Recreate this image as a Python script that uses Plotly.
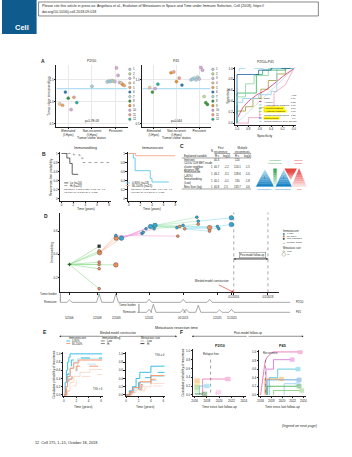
import plotly.graph_objects as go
import pandas as pd

FONT = "Liberation Sans, Arial, Helvetica, sans-serif"
INK = "#231f20"
W, H = 352, 457

# ======================= DATA =======================
# ---- Panel A: tumor clone immunoediting ----
clone_ids = [str(i) for i in range(1, 13)]
clone_colors = ["#a6cde3", "#b9de95", "#cbb6de", "#e8c59f", "#eea35f", "#2b7cb6",
                "#a9dbd6", "#3a9a3a", "#f08c2c", "#d8a6d8", "#f2a080", "#22b398"]
status_labels = ["Eliminated<br>(I-Hyes)", "Non-recurrent<br>(I-Hyes)", "Persistent"]

p2i10_status = [0, 0, 0, 0, 0, 0, 0, 1, 2, 2, 2, 2, 2, 2, 2, 2, 2, 2, 2, 2]
p2i10_clone = [4, 5, 6, 8, 10, 11, 12, 1, 7, 1, 1, 7, 2, 3, 10, 10, 3, 4, 9, 5]
p2i10_value = [0.95, 0.92, 1.22, 1.08, 0.82, 1.10, 0.98, 1.35, 1.45, 1.47, 1.46, 1.48,
               1.47, 1.46, 1.77, 1.60, 1.44, 1.43, 1.39, 1.37]
p2i10_threshold = 1.3
p2i10_p = "p=5.7E-08"

p45_status = [0, 0, 0, 0, 1, 1, 1, 1, 1, 2, 2, 2, 2, 2, 2, 2, 2, 2, 2, 2]
p45_clone = [4, 8, 10, 12, 9, 11, 9, 11, 6, 1, 1, 7, 1, 7, 3, 10, 10, 2, 8, 8]
p45_value = [0.91, 0.86, 0.90, 0.95, 1.08, 1.09, 0.98, 1.02, 0.94, 1.00, 1.01, 1.02,
             1.00, 1.03, 1.01, 1.14, 1.11, 0.81, 0.74, 0.72]
p45_threshold = 0.9
p45_p = "p=0.044"

# ---- Panel A: ROC ----
roc_names = ["Shifts", "# Clones", "# Immunogenic mutations", "# Coding mutations",
             "# Antigenic mutations", "Transitions/Transversions", "Immunoediting",
             "Immunoediting per clone (Events)"]
roc_auc = ["0.66", "0.53", "0.67", "0.60", "0.76", "0.27", "0.9", ""]
roc_colors = ["#a39a3a", "#d42f7a", "#8fcbe8", "#2fb35a", "#86d49a", "#f59ac0", "#1f5fa8", "#9fd4ef"]
roc_highlight = [False, False, False, True, True, False, True, False]
roc_spec = [
    [1, 1, 0.85, 0.85, 0.72, 0.72, 0.58, 0.58, 0.45, 0.45, 0.3, 0.3, 0.15, 0.15, 0],
    [1, 1, 0.9, 0.8, 0.65, 0.5, 0.35, 0.2, 0],
    [1, 1, 0.9, 0.9, 0.62, 0.62, 0.4, 0.4, 0.3, 0.3, 0],
    [1, 1, 0.66, 0.66, 0.55, 0.55, 0.15, 0.15, 0],
    [1, 1, 0.85, 0.85, 0.7, 0.7, 0.45, 0.45, 0],
    [1, 0.8, 0.8, 0.6, 0.6, 0.35, 0.35, 0.15, 0],
    [1, 1, 0.62, 0.62, 0.4, 0.4, 0],
    [1, 1, 0.96, 0.96, 0],
]
roc_sens = [
    [0, 0.22, 0.22, 0.3, 0.3, 0.45, 0.45, 0.62, 0.62, 0.78, 0.78, 0.9, 0.9, 1, 1],
    [0, 0.08, 0.28, 0.4, 0.52, 0.6, 0.72, 0.85, 1],
    [0, 0.38, 0.38, 0.45, 0.45, 0.52, 0.52, 0.58, 0.58, 1, 1],
    [0, 0.55, 0.55, 0.89, 0.89, 0.97, 0.97, 1, 1],
    [0, 0.48, 0.48, 0.72, 0.72, 0.87, 0.87, 1, 1],
    [0, 0, 0.1, 0.1, 0.28, 0.3, 0.55, 0.7, 1],
    [0, 0.89, 0.89, 0.97, 0.97, 1, 1],
    [0, 0.9, 0.9, 1, 1],
]

# ---- Panel B: Kaplan-Meier ----
b_lo_t = [0, 0.9, 1.4, 1.8, 2.8]
b_lo_s = [1.0, 0.9, 0.78, 0.54, 0.54]
b_hi_t = [0, 2.0, 3.1, 3.6, 8.0]
b_hi_s = [1.0, 0.97, 0.9, 0.8, 0.8]
b_low_is_t = [0, 0.8, 1.1, 3.7, 4.0, 6.9]
b_low_is_s = [1.0, 0.9, 0.62, 0.45, 0.37, 0.37]
b_high_is_t = [0, 1.2, 8.0]
b_high_is_s = [1.0, 0.95, 0.95]

# ---- Panel C: table ----
c_rows = ["Intercept", "CD3 & CD8 MET-inside<br>cluster neighbor<br>distance [IM]",
          "Immunoscore<br>(≥80%)", "Immunoediting<br>(Low)", "Mets Size (log)"]
c_n = ["", "1", "1", "1", "1"]
c_r2_first = ["40.3", "40.7", "46.2", "40.1", "40.8"]
c_lp_first = ["", "-2.2", "-3.1", "-0.1", "2.5"]
c_r2_multi = ["124", "124.1", "128.6", "130", "133.7"]
c_lp_multi = ["", "-1.5", "-5.6", "-1.8", "4.6"]

# ---- Panel D: immunoediting tree over time ----
d_date = ["2006-05-15",
          "2008-02-10", "2008-02-10", "2008-02-20", "2008-02-10", "2008-02-10", "2008-02-10", "2008-02-10",
          "2009-02-01", "2009-02-01", "2009-02-10", "2009-06-01",
          "2010-08-15", "2010-09-10", "2010-11-10", "2011-02-15", "2011-05-20", "2011-05-01",
          "2012-09-01", "2012-11-01", "2013-01-10", "2012-09-20", "2013-02-15",
          "2013-11-01", "2013-12-01", "2013-12-01",
          "2014-08-01", "2014-08-01", "2015-01-15", "2015-02-15",
          "2015-11-10", "2015-11-10"]
d_value = [0.314,
           0.47, 0.43, 0.415, 0.334, 0.314, 0.277, 0.105,
           0.31, 0.563, 0.54, 0.54,
           0.58, 0.59, 0.62, 0.64, 0.65, 0.62,
           0.63, 0.64, 0.65, 0.557, 0.62,
           0.72, 0.686, 0.66,
           0.63, 0.60, 0.64, 0.62,
           0.715, 0.657]
d_score = ["P",
           "N", "O", "O", "O", "O", "O", "O",
           "O", "B", "O", "B",
           "B", "B", "B", "B", "B", "B",
           "B", "O", "B", "O", "O",
           "B", "B", "O",
           "O", "O", "B", "B",
           "B", "B"]
d_size = ["L",
          "L", "L", "H", "L", "L", "L", "L",
          "H", "L", "H", "H",
          "L", "L", "L", "H", "H", "L",
          "L", "L", "L", "L", "L",
          "L", "L", "L",
          "H", "L", "L", "L",
          "H", "H"]
d_parent = [-1,
            0, 0, 0, 0, 0, 0, 0,
            0, 3, 3, 3,
            10, 10, 11, 11, 11, 11,
            15, 15, 16, 9, 16,
            16, 16, 17,
            22, 22, 19, 19,
            24, 28]
d_cutoffs = ["2016-01-01", "2018-01-01"]
d_cutoff_labels = ["01/2016", "01/2018"]

# timelines (tumor burden)
tl_p2i10_dates = ["2006-05-15", "2008-02-10", "2009-02-01", "2011-01-15", "2013-01-10", "2014-08-01"]
tl_p2i10_height = [0.25, 0.85, 0.85, 0.3, 0.3, 0.3]
tl_p45_dates = ["2011-01-15", "2011-04-15", "2013-01-10", "2013-03-15", "2013-12-01", "2015-03-01", "2015-11-10"]
tl_p45_height = [0.3, 0.8, 0.3, 0.3, 0.7, 0.25, 0.3]
resection_labels = ["5/2006", "1/2008", "2/2009", "1/2011", "01/2013", "1/2015", "11/2015"]
resection_dates = ["2006-05-15", "2008-01-15", "2009-02-15", "2011-01-15", "2013-01-15", "2015-01-15", "2015-11-15"]

# ---- Panel E: cumulative probability of recurrence (blinded model) ----
e_score = ["0-80%", "0-80%", "0-80%", "0-80%", "80-100%", "80-100%", "80-100%", "80-100%"]
e_edit = ["Low", "Hi", "Low", "Hi", "Low", "Hi", "Low", "Hi"]
e_size = ["Hi", "Hi", "Low", "Low", "Hi", "Hi", "Low", "Low"]
e1_t = [[0, 0.2, 0.4, 0.6, 0.8, 1.0, 6.2], [0, 0.3, 0.5, 0.8, 1.2, 1.6, 6.2],
        [0, 0.3, 0.6, 1.0, 1.5, 2.2, 6.2], [0, 0.4, 0.8, 1.4, 2.2, 6.2],
        [0, 0.3, 0.6, 1.0, 1.6, 2.4, 6.2], [0, 0.4, 0.8, 1.3, 2.0, 6.2],
        [0, 0.5, 1.0, 1.6, 2.6, 4.2, 6.2], [0, 0.6, 1.2, 2.0, 3.0, 4.2, 6.2]]
e1_p = [[0, 0.3, 0.6, 0.8, 0.92, 1.0, 1.0], [0, 0.25, 0.5, 0.7, 0.85, 0.9, 0.9],
        [0, 0.2, 0.45, 0.65, 0.8, 0.88, 0.88], [0, 0.15, 0.4, 0.6, 0.75, 0.75],
        [0, 0.2, 0.45, 0.65, 0.78, 0.85, 0.85], [0, 0.15, 0.38, 0.55, 0.7, 0.7],
        [0, 0.1, 0.3, 0.45, 0.55, 0.62, 0.62], [0, 0.08, 0.22, 0.35, 0.45, 0.5, 0.5]]
e2_t = [[0, 0.5, 1, 1.6, 2.2, 4.0, 6.2], [0, 0.6, 1.2, 2, 2.5, 4, 6.2],
        [0, 0.7, 1.4, 2.2, 4, 6.2], [0, 0.8, 1.6, 2.5, 4, 6.2],
        [0, 0.6, 1.2, 2.2, 4, 6.2], [0, 0.7, 1.4, 2.4, 4, 6.2],
        [0, 0.8, 1.6, 2.6, 4, 6.2], [0, 1, 2, 3, 4, 6.2]]
e2_p = [[0, 0.1, 0.2, 0.4, 0.55, 0.7, 0.7], [0, 0.08, 0.15, 0.3, 0.42, 0.55, 0.55],
        [0, 0.06, 0.15, 0.3, 0.45, 0.45], [0, 0.05, 0.12, 0.22, 0.35, 0.35],
        [0, 0.08, 0.18, 0.32, 0.47, 0.47], [0, 0.06, 0.14, 0.25, 0.38, 0.38],
        [0, 0.05, 0.12, 0.2, 0.28, 0.28], [0, 0.04, 0.1, 0.16, 0.22, 0.22]]

# ---- Panel F: post-model follow-up ----
f1_colors = ["#ee6fb8", "#5fc6e6", "#f4a6e0", "#f6a04d", "#e9cf5a", "#79c36a", "#b6e09c", "#2f7d3c"]
f1_t = [[2017.3, 2017.3, 2021.0], [2016.8, 2016.8, 2017.6], [2019.5, 2019.5], [2016.0],
        [2016.0], [2016.0], [2016.0], [2016.0, 2017.2]]
f1_p = [[0, 0.36, 0.36], [0, 0.2, 0.2], [0, 0.06], [0.33], [0.25], [0.17], [0.1], [0.02, 0.02]]
f2_colors = ["#ee5fa8", "#d46ad8", "#3fc0d8", "#4a8fdc", "#f2a23c", "#8fc8f0", "#3aa845", "#7cc86a"]
f2_t = [[2016.0, 2016.3, 2016.5, 2016.8, 2017.2, 2017.6, 2018.3, 2023.0],
        [2017.0, 2017.0, 2018.4, 2018.4, 2021.5],
        [2017.6, 2017.6, 2019.2, 2019.2, 2022.6],
        [2017.2, 2017.2, 2022.8], [2016.8, 2016.8, 2019.5], [2020.4, 2020.4, 2022.6],
        [2017.2, 2017.2, 2022.8], [2018.4, 2018.4, 2023.3]]
f2_p = [[0, 0.3, 0.55, 0.75, 0.88, 0.93, 1.0, 1.0], [0, 0.6, 0.6, 0.82, 0.82],
        [0, 0.4, 0.4, 0.6, 0.6], [0, 0.35, 0.35], [0, 0.37, 0.37], [0, 0.26, 0.26],
        [0, 0.2, 0.2], [0, 0.1, 0.1]]
f1_marker_year = 2018.6
f2_marker_year = 2016.9

# ======================= HELPERS =======================
def X(p):
    return p / W

def Y(p):
    return 1 - p / H

def dom_x(a, b):
    return [a / W, b / W]

def dom_y(top, bottom):
    return [1 - bottom / H, 1 - top / H]

ann, shapes = [], []
fig = go.Figure()
lay = dict(width=W, height=H, margin=dict(l=0, r=0, t=0, b=0), paper_bgcolor="white",
           plot_bgcolor="white", showlegend=False, font=dict(family=FONT, size=3.4, color=INK))


def txt(x, y, s, size=3.3, color=INK, xa="center", ya="middle", angle=0, bold=False,
        italic=False, bg=None, border=None):
    if bold:
        s = f"<b>{s}</b>"
    if italic:
        s = f"<i>{s}</i>"
    d = dict(x=X(x), y=Y(y), xref="paper", yref="paper", text=s, showarrow=False,
             xanchor=xa, yanchor=ya, textangle=angle, align=xa if xa != "center" else "center",
             font=dict(size=size, color=color, family=FONT), borderpad=0)
    if bg:
        d["bgcolor"] = bg
    if border:
        d["bordercolor"] = border
        d["borderwidth"] = 0.4
        d["borderpad"] = 0.6
    ann.append(d)


def arrow(x0, y0, x1, y1, color=INK, width=0.5, head=2, size=0.7):
    ann.append(dict(x=X(x1), y=Y(y1), xref="paper", yref="paper", ax=x0 - x1, ay=y0 - y1,
                    axref="pixel", ayref="pixel", text="", showarrow=True, arrowhead=head,
                    arrowsize=size, arrowwidth=width, arrowcolor=color, standoff=0, startstandoff=0))


def line_px(x0, y0, x1, y1, color=INK, width=0.5, dash=None):
    shapes.append(dict(type="line", xref="paper", yref="paper", x0=X(x0), y0=Y(y0), x1=X(x1),
                       y1=Y(y1), line=dict(color=color, width=width, dash=dash or "solid")))


def rect_px(x0, y0, x1, y1, fill=None, color=INK, width=0.5):
    shapes.append(dict(type="rect", xref="paper", yref="paper", x0=X(x0), y0=Y(y1), x1=X(x1),
                       y1=Y(y0), fillcolor=fill or "rgba(0,0,0,0)", line=dict(color=color, width=width)))


def circle_px(x, y, r, fill, color="#555", width=0.3):
    shapes.append(dict(type="circle", xref="paper", yref="paper", x0=X(x - r), x1=X(x + r),
                       y0=Y(y + r), y1=Y(y - r), fillcolor=fill, line=dict(color=color, width=width)))


def names(n):
    return ("x" if n == 1 else f"x{n}", "y" if n == 1 else f"y{n}")


def add_axes(n, xd, yd, xr, yr, xkw=None, ykw=None):
    xn, yn = names(n)
    base = dict(showgrid=False, zeroline=False, showline=True, linecolor=INK, linewidth=0.5,
                ticks="outside", ticklen=1.4, tickwidth=0.4, tickcolor=INK,
                tickfont=dict(size=3.0, family=FONT, color=INK), fixedrange=True)
    xa = dict(base)
    xa.update(domain=xd, range=xr, anchor=yn)
    xa.update(xkw or {})
    ya = dict(base)
    ya.update(domain=yd, range=yr, anchor=xn)
    ya.update(ykw or {})
    lay["xaxis" if n == 1 else f"xaxis{n}"] = xa
    lay["yaxis" if n == 1 else f"yaxis{n}"] = ya


def sc(n, **kw):
    xn, yn = names(n)
    fig.add_trace(go.Scatter(xaxis=xn, yaxis=yn, hoverinfo="skip", **kw))


def dodge(status, step_max=0.12, width=0.72):
    out = []
    for k, g in enumerate(status):
        members = [j for j, s in enumerate(status) if s == g]
        m = len(members)
        i = members.index(k)
        step = min(step_max, width / (m - 1)) if m > 1 else 0
        out.append(g + (i - (m - 1) / 2) * step)
    return out


def mix(c0, c1, f):
    a = [int(c0[i:i + 2], 16) for i in (1, 3, 5)]
    b = [int(c1[i:i + 2], 16) for i in (1, 3, 5)]
    return "rgb(%d,%d,%d)" % tuple(round(a[i] + (b[i] - a[i]) * f) for i in range(3))


def tri_grad(apex, left, right, c0, c1, n=10):
    def lerp(p, q, f):
        return (p[0] + (q[0] - p[0]) * f, p[1] + (q[1] - p[1]) * f)
    for i in range(n):
        f0, f1 = i / n, (i + 1) / n
        pts = [lerp(apex, left, f0), lerp(apex, right, f0), lerp(apex, right, f1), lerp(apex, left, f1)]
        col = mix(c0, c1, (f0 + f1) / 2)
        path = "M " + " L ".join(f"{X(p[0]):.5f},{Y(p[1]):.5f}" for p in pts) + " Z"
        shapes.append(dict(type="path", xref="paper", yref="paper", path=path, fillcolor=col,
                           line=dict(color=col, width=0.3)))


# ======================= HEADER / FOOTER =======================
rect_px(0, 0, 35, 34, fill="#0f5b8d", color="#0f5b8d", width=0)
txt(20, 28, "Cell", size=7.5, color="white", bold=True)
rect_px(37, 2, 320, 16, color="#555", width=0.7)
txt(39.5, 6.3, "Please cite this article in press as: Angelova et al., Evolution of Metastases in Space and Time under Immune Selection, Cell (2018), https://",
    size=3.6, xa="left")
txt(39.5, 11.8, "doi.org/10.1016/j.cell.2018.09.018", size=3.6, xa="left")
txt(320, 427, "(legend on next page)", size=3.6, xa="right", italic=True)
txt(32, 444, "12  Cell 175, 1–15, October 18, 2018", size=3.8, xa="left")

# ======================= PANEL A =======================
txt(41, 61, "A", size=5, bold=True)
grid = dict(showgrid=True, gridcolor="#e9e9e9", gridwidth=0.4)
for n, (x0, x1), st, cl, vals, thr, pv, ttl, yr, yt in [
    (1, (55, 127), p2i10_status, p2i10_clone, p2i10_value, p2i10_threshold, p2i10_p, "P2I10",
     [0.43, 1.84], [0.5, 1.0, 1.5]),
    (2, (142, 211), p45_status, p45_clone, p45_value, p45_threshold, p45_p, "P45",
     [0.466, 1.17], [0.5, 1.0]),
]:
    add_axes(n, dom_x(x0, x1), dom_y(65, 127), [-0.5, 2.5], yr,
             dict(tickvals=[0, 1, 2], ticktext=status_labels, **grid),
             dict(tickvals=yt, ticktext=[f"{v:.1f}" for v in yt], **grid))
    sc(n, x=[-0.5, 2.5], y=[thr, thr], mode="lines", line=dict(color="#b3dcf5", width=1.3))
    sc(n, x=dodge(st), y=vals, mode="markers",
       marker=dict(size=3.2, color=[clone_colors[c - 1] for c in cl], line=dict(color="#777", width=0.25)))
    cx = (x0 + x1) / 2
    txt(cx, 61.5, ttl, size=3.5)
    txt(cx, 121, pv, size=3.0)
    txt(cx, 138.5, "Tumor clone status", size=3.4)
    lx = x1 + 2.3
    for i, (cid, col) in enumerate(zip(clone_ids, clone_colors)):
        yy = 69.5 + i * 4.55
        circle_px(lx, yy, 1.3, col)
        txt(lx + 2.3, yy, cid, size=2.8, xa="left")
txt(47.5, 96, "Tumor clone immunoediting", size=3.2, angle=-90)

# ROC
add_axes(3, dom_x(236, 297), dom_y(67, 125), [1.03, -0.03], [-0.03, 1.03],
         dict(tickvals=[1, 0.8, 0.6, 0.4, 0.2, 0], ticktext=["1.0", "0.8", "0.6", "0.4", "0.2", "0.0"]),
         dict(tickvals=[0, 0.2, 0.4, 0.6, 0.8, 1], ticktext=["0.0", "0.2", "0.4", "0.6", "0.8", "1.0"]))
sc(3, x=[1.03, -0.03], y=[-0.03, 1.03], mode="lines", line=dict(color="#c8c8c8", width=0.6))
for i in range(len(roc_names)):
    sc(3, x=roc_spec[i], y=roc_sens[i], mode="lines",
       line=dict(color=roc_colors[i], width=0.8, dash="dash" if i == 7 else "solid"))
txt(266.5, 62.5, "P2I10+P45", size=3.4)
txt(266.5, 136.5, "Specificity", size=3.4)
txt(228.5, 96, "Sensitivity", size=3.4, angle=-90)
txt(295, 95.3, "AUC", size=2.5)
for i, nm in enumerate(roc_names):
    yy = 98.5 + i * 3.3
    line_px(259.8, yy, 262.6, yy, color=roc_colors[i], width=0.9, dash="dash" if i == 7 else None)
    txt(263.5, yy, nm, size=2.2, xa="left", bg="#fff200" if roc_highlight[i] else None)
    txt(295, yy, roc_auc[i], size=2.3)

# ======================= PANEL B =======================
txt(42, 154, "B", size=5, bold=True)
for n, (x0, x1), ttl in [(4, (59, 110), "Immunoediting"), (5, (127, 177), "Immunoscore")]:
    add_axes(n, dom_x(x0, x1), dom_y(152, 201), [-0.2, 8.3], [-0.04, 1.04],
             dict(tickvals=[0, 2, 4, 6, 8]),
             dict(tickvals=[0, 0.2, 0.4, 0.6, 0.8, 1.0], ticktext=["0", "0.2", "0.4", "0.6", "0.8", "1"]))
    txt((x0 + x1) / 2, 148.8, ttl, size=3.5)
    txt((x0 + x1) / 2, 209, "Time (years)", size=3.2)
sc(4, x=b_lo_t, y=b_lo_s, mode="lines", line=dict(color="#3a3a3a", width=0.8, shape="hv"))
sc(4, x=b_hi_t, y=b_hi_s, mode="lines", line=dict(color="#8a8a8a", width=0.8, shape="hv", dash="dot"))
sc(5, x=b_low_is_t, y=b_low_is_s, mode="lines", line=dict(color="#5cc8ea", width=0.9, shape="hv"))
sc(5, x=b_high_is_t, y=b_high_is_s, mode="lines", line=dict(color="#f6a68a", width=0.9, shape="hv"))
txt(49, 177, "Recurrence-free probability", size=3.1, angle=-90)
line_px(63, 183.3, 67, 183.3, color="#3a3a3a", width=0.8)
txt(68, 183.3, "Lo (n=10)", size=2.8, xa="left")
line_px(63, 186, 67, 186, color="#8a8a8a", width=0.8, dash="dot")
txt(68, 186, "Hi (n=23)", size=2.8, xa="left")
txt(62, 191.5, "log-rank p=0.003; p(adj)=0.02; HR=6.7<br>HR 95% CI: [1.5-29.3]; p=0.012", size=2.4, xa="left")
line_px(125, 183.3, 129, 183.3, color="#5cc8ea", width=0.9)
txt(130, 183.3, "0-80% (n=18)", size=2.8, xa="left")
line_px(125, 186, 129, 186, color="#f6a68a", width=0.9)
txt(130, 186, "80-100% (n=15)", size=2.8, xa="left")
txt(129, 191.5, "log-rank p=0.035; p(adj)=0.04; HR=4.7<br>HR 95% CI: [1.1-20.7]; p=0.037", size=2.4, xa="left")

# ======================= PANEL C =======================
txt(182, 146, "C", size=5, bold=True)
cx = {"n": 212, "r1": 217.5, "l1": 227, "r2": 238, "l2": 248.5}
txt(cx["n"], 151.5, "N", size=2.8)
txt(222, 150.5, "First<br>recurrence", size=2.8)
txt(243, 150.5, "Multiple<br>recurrences", size=2.8)
line_px(214.5, 153.8, 231, 153.8, width=0.4)
line_px(234, 153.8, 252, 153.8, width=0.4)
txt(183, 156.3, "Explained variable", size=2.8, xa="left")
for k, lab in [("r1", "R²c"), ("l1", "log(p)"), ("r2", "R²c"), ("l2", "log(p)")]:
    txt(cx[k], 156.3, lab, size=2.8)
line_px(182, 158.3, 252, 158.3, width=0.4)
row_y = [160.8, 167.2, 174.5, 181.2, 187.3]
for i, ry in enumerate(row_y):
    txt(183, ry, c_rows[i], size=2.7, xa="left")
    txt(cx["n"], ry, c_n[i], size=2.7)
    txt(cx["r1"], ry, c_r2_first[i], size=2.7)
    txt(cx["l1"], ry, c_lp_first[i], size=2.7)
    txt(cx["r2"], ry, c_r2_multi[i], size=2.7)
    txt(cx["l2"], ry, c_lp_multi[i], size=2.7)
line_px(182, 189.4, 252, 189.4, width=0.4)
# conceptual triangles
tri_grad((266, 170), (257, 187), (275, 187), "#bfe3f7", "#0f7cc0")
for i in range(8):
    col = mix("#2fa84f", "#e9f6ec", i / 7)
    rect_px(274.6, 169 + i * 18 / 8, 277.8, 169 + (i + 1) * 18 / 8, fill=col, color=col, width=0.2)
tri_grad((285, 170), (277, 187), (293, 187), "#bfe3f7", "#0f7cc0")
tri_grad((292, 180), (286, 169), (298, 169), "#f7b8b8", "#e1261c")
tri_grad((300.5, 169), (293, 187), (308, 187), "#e83a3a", "#fde6e6")
txt(266, 178.5, "I", size=3, color="#0b3d66")
txt(285, 178.5, "I", size=3, color="#0b3d66")
txt(276, 162.5, "Metastasis<br>seeding (out)", size=2.4, color="#2fa84f")
txt(300, 162.5, "Immune<br>escape", size=2.4, color="#e1261c")
txt(266, 189.5, "Immunoscore", size=2.4, color="#0f7cc0")
txt(284.5, 189.5, "Immunoediting", size=2.4, color="#0f7cc0")
txt(300.5, 189.5, "Low", size=2.4, color="#e1261c")

# ======================= PANEL D =======================
txt(45, 216.5, "D", size=5, bold=True)
d_start, d_end = "2005-11-01", "2018-08-22"
add_axes(6, dom_x(59, 280), dom_y(213, 293), [d_start, d_end], [0.074, 0.76],
         dict(type="date", tickvals=resection_dates + d_cutoffs,
              ticktext=[""] * len(resection_dates) + d_cutoff_labels),
         dict(tickvals=[0.2, 0.4, 0.6], ticktext=["0.2", "0.4", "0.6"]))
txt(51, 253, "Immunoediting", size=3.2, angle=-90)
score_col = {"B": "#2fa8d5", "O": "#ee8c5e", "N": "#333333", "P": "#3a8a3a"}
edge_palette = ["#8fdc8f", "#f6b89c", "#f3a6dc", "#a6e6b8", "#8fdcef"]
gen = []
for k, p in enumerate(d_parent):
    gen.append(0 if p < 0 else gen[p] + 1)
edges = {}
for k, p in enumerate(d_parent):
    if p < 0:
        continue
    c = edge_palette[min(gen[p], 4)]
    ex, ey = edges.setdefault(c, ([], []))
    ex += [d_date[p], d_date[k], None]
    ey += [d_value[p], d_value[k], None]
for c, (ex, ey) in edges.items():
    sc(6, x=ex, y=ey, mode="lines", line=dict(color=c, width=0.6))
for s in ["O", "B", "N"]:
    for sz, msz in [("H", 4.6), ("L", 2.9)]:
        idx = [k for k in range(len(d_date)) if d_score[k] == s and d_size[k] == sz]
        if idx:
            sc(6, x=[d_date[k] for k in idx], y=[d_value[k] for k in idx], mode="markers",
               marker=dict(size=msz, color=score_col[s], line=dict(color="#333", width=0.35),
                           symbol="square" if s == "N" else "circle"))
idx = [k for k in range(len(d_date)) if d_score[k] == "P"]
sc(6, x=[d_date[k] for k in idx], y=[d_value[k] for k in idx], mode="markers",
   marker=dict(size=3.0, color="#2d6b2d", symbol="cross"))
for dcut in d_cutoffs:
    shapes.append(dict(type="line", xref="x6", yref="paper", x0=dcut, x1=dcut, y0=Y(293), y1=Y(213),
                       line=dict(color="#555", width=0.5, dash="dot")))
ann.append(dict(x=d_cutoffs[1], y=Y(259.5), xref="x6", yref="paper", ax=-36, ay=0, axref="pixel",
                ayref="pixel", text="", showarrow=True, arrowhead=2, arrowsize=0.7, arrowwidth=0.5,
                arrowcolor=INK, standoff=0))
ann.append(dict(x=d_cutoffs[0], y=Y(259.5), xref="x6", yref="paper", ax=36, ay=0, axref="pixel",
                ayref="pixel", text="", showarrow=True, arrowhead=2, arrowsize=0.7, arrowwidth=0.5,
                arrowcolor=INK, standoff=0))
txt(253.5, 256, "Post-model follow-up", size=2.6, border="#555", bg="white")
ann.append(dict(x=d_cutoffs[0], y=Y(293), xref="x6", yref="paper", ax=-22, ay=-11, axref="pixel",
                ayref="pixel", text="Blinded model construction", showarrow=True, arrowhead=2,
                arrowsize=0.8, arrowwidth=0.6, arrowcolor="#e1261c", standoff=0,
                font=dict(size=2.8, family=FONT, color=INK)))
# D legend
txt(283, 232, "Immunoscore", size=2.6, xa="left")
for i, (s, lab) in enumerate([("B", "0-80%"), ("O", "80-100%"), ("N", "Not evaluated")]):
    yy = 234.5 + i * 2.4
    circle_px(285, yy, 0.9, score_col[s], width=0.2)
    txt(287, yy, lab, size=2.4, xa="left")
txt(285, 243.3, "+", size=3, color="#2d6b2d")
txt(287, 243.3, "Primary tumor", size=2.4, xa="left")
txt(283, 249, "Metastasis size", size=2.6, xa="left")
circle_px(285, 252, 0.9, "white", width=0.3)
txt(287.5, 252, "Low", size=2.4, xa="left")
circle_px(285, 255, 1.8, "white", width=0.3)
txt(287.5, 255, "Hi", size=2.4, xa="left")

# timelines
t_start, t_end = "2005-11-01", "2019-05-22"
add_axes(11, dom_x(59, 293), dom_y(293, 318), [t_start, t_end], [-0.5, 2.0],
         dict(type="date", visible=False), dict(visible=False))


def timeline(dates, heights, base, start, end):
    xs, ys = [pd.Timestamp(start)], [base]
    for d, h in sorted(zip(dates, heights)):
        t = pd.Timestamp(d)
        xs += [t - pd.Timedelta(days=55), t, t + pd.Timedelta(days=55)]
        ys += [base, base + h, base]
    xs.append(pd.Timestamp(end))
    ys.append(base)
    return xs, ys


xs, ys = timeline(tl_p2i10_dates, tl_p2i10_height, 1.0, t_start, "2019-04-20")
sc(11, x=xs, y=ys, mode="lines", line=dict(color="#555", width=0.5))
xs, ys = timeline(tl_p45_dates, tl_p45_height, 0.0, "2010-05-01", "2019-04-20")
sc(11, x=xs, y=ys, mode="lines", line=dict(color="#555", width=0.5))
line_px(59, 294, 59, 303, width=0.5)
line_px(138.5, 304.5, 138.5, 313, width=0.5)
txt(57, 295, "Tumor burden", size=2.7, xa="right")
txt(57, 303, "Remission", size=2.7, xa="right")
txt(137, 305.5, "Tumor burden", size=2.7, xa="right")
txt(137, 313, "Remission", size=2.7, xa="right")
txt(296, 303, "P2I10", size=2.8, xa="left")
txt(296, 313, "P45", size=2.8, xa="left")
for lab, d in zip(resection_labels, resection_dates):
    ann.append(dict(x=d, y=Y(323), xref="x11", yref="paper", text=lab, showarrow=False,
                    font=dict(size=2.8, family=FONT, color=INK)))
txt(176, 328.5, "Metastasis resection time", size=3.8)

# ======================= PANEL E =======================
txt(43, 333, "E", size=5, bold=True)
arrow(117.5, 337, 58, 337)
arrow(117.5, 337, 177, 337)
txt(117.5, 333.5, "Blinded model construction", size=3.0, bg="white")
e_col = {"0-80%": "rgba(56,190,232,{a})", "80-100%": "rgba(244,150,112,{a})"}
for n, (x0, x1), tt, pp, tig, tig_xy in [(7, (62, 102), e1_t, e1_p, "TIG > 0", (97, 390)),
                                       (8, (125, 165), e2_t, e2_p, "TIG = 0", (160, 356))]:
    add_axes(n, dom_x(x0, x1), dom_y(353, 397), [-0.1, 6.3], [-0.03, 1.04],
             dict(tickvals=[0, 2, 4, 6]),
             dict(tickvals=[0, 0.2, 0.4, 0.6, 0.8, 1.0], ticktext=["0.0", "0.2", "0.4", "0.6", "0.8", "1.0"]))
    for i in range(len(e_score)):
        a = 1.0 if e_size[i] == "Hi" else 0.55
        sc(n, x=tt[i], y=pp[i], mode="lines",
           line=dict(color=e_col[e_score[i]].format(a=a), width=1.0 if e_size[i] == "Hi" else 0.6,
                     shape="hv", dash="dash" if e_edit[i] == "Hi" else "solid"))
    txt((x0 + x1) / 2, 408, "Time (years)", size=3.3)
    txt(tig_xy[0], tig_xy[1], tig, size=2.8)
txt(53, 375, "Cumulative probability of recurrence", size=3.0, angle=-90)
txt(66.5, 339, "Immunoscore", size=2.8, xa="left")
for i, s in enumerate(["0-80%", "80-100%"]):
    yy = 341.7 + i * 2.6
    line_px(65, yy, 69, yy, color=e_col[s].format(a=1), width=0.9)
    txt(70, yy, s, size=2.6, xa="left")
txt(100, 339, "Immunoediting", size=2.8, xa="left")
for i, (lab, dsh) in enumerate([("Low", None), ("Hi", "dash")]):
    yy = 341.7 + i * 2.6
    line_px(100, yy, 104, yy, color="#555", width=0.7, dash=dsh)
    txt(105.5, yy, lab, size=2.6, xa="left")
txt(140, 339, "Metastasis size", size=2.8, xa="left")
for i, (lab, wd) in enumerate([("Low", 0.4), ("Hi", 1.1)]):
    yy = 341.7 + i * 2.6
    line_px(140, yy, 144, yy, color="#555", width=wd)
    txt(145.5, yy, lab, size=2.6, xa="left")

# ======================= PANEL F =======================
txt(182, 333, "F", size=5, bold=True)
arrow(248.5, 337, 192, 337)
arrow(248.5, 337, 305, 337)
txt(248.5, 333.5, "Post-model follow-up", size=3.0, bg="white")
for n, (x0, x1), top, ttl, cols, tt, pp, my, mlab in [
    (9, (193, 247), 350, "P2I10", f1_colors, f1_t, f1_p, f1_marker_year, "Relapse free"),
    (10, (260, 307), 351, "P45", f2_colors, f2_t, f2_p, f2_marker_year, "Recurrence"),
]:
    xn, yn = names(n)
    add_axes(n, dom_x(x0, x1), dom_y(top, 397), [2015.7, 2024.4], [-0.03, 1.04],
             dict(tickvals=[2016, 2018, 2020, 2022, 2024]),
             dict(tickvals=[0, 0.2, 0.4, 0.6, 0.8, 1.0], ticktext=["0.0", "0.2", "0.4", "0.6", "0.8", "1.0"]))
    for i in range(len(cols)):
        sc(n, x=tt[i], y=pp[i], mode="lines", line=dict(color=cols[i], width=0.8))
        shapes.append(dict(type="rect", xref=xn, yref=yn, x0=tt[i][-1], x1=tt[i][-1] + 0.8,
                           y0=pp[i][-1] - 0.045, y1=pp[i][-1] + 0.045, fillcolor=cols[i], opacity=0.45,
                           line=dict(color=cols[i], width=0.5)))
    shapes.append(dict(type="line", xref=xn, yref=yn, x0=my, x1=my, y0=0.05, y1=0.88,
                       line=dict(color="#444", width=0.5, dash="dot")))
    txt((x0 + x1) / 2, 346.5, ttl, size=3.8, bold=True)
    txt((x0 + x1) / 2, 408, "Time since last follow-up", size=3.2)
ann.append(dict(x=f1_marker_year, y=0.93, xref="x9", yref="y9", text="Relapse free", showarrow=False,
                font=dict(size=2.8, family=FONT, color=INK)))
ann.append(dict(x=f2_marker_year + 0.9, y=0.97, xref="x10", yref="y10", text="Recurrence", showarrow=False,
                font=dict(size=2.8, family=FONT, color=INK)))
txt(183.5, 373, "Cumulative probability of recurrence", size=3.0, angle=-90)

lay["annotations"] = ann
lay["shapes"] = shapes
fig.update_layout(**lay)
fig.write_html("out.html", config={"displayModeBar": False})
